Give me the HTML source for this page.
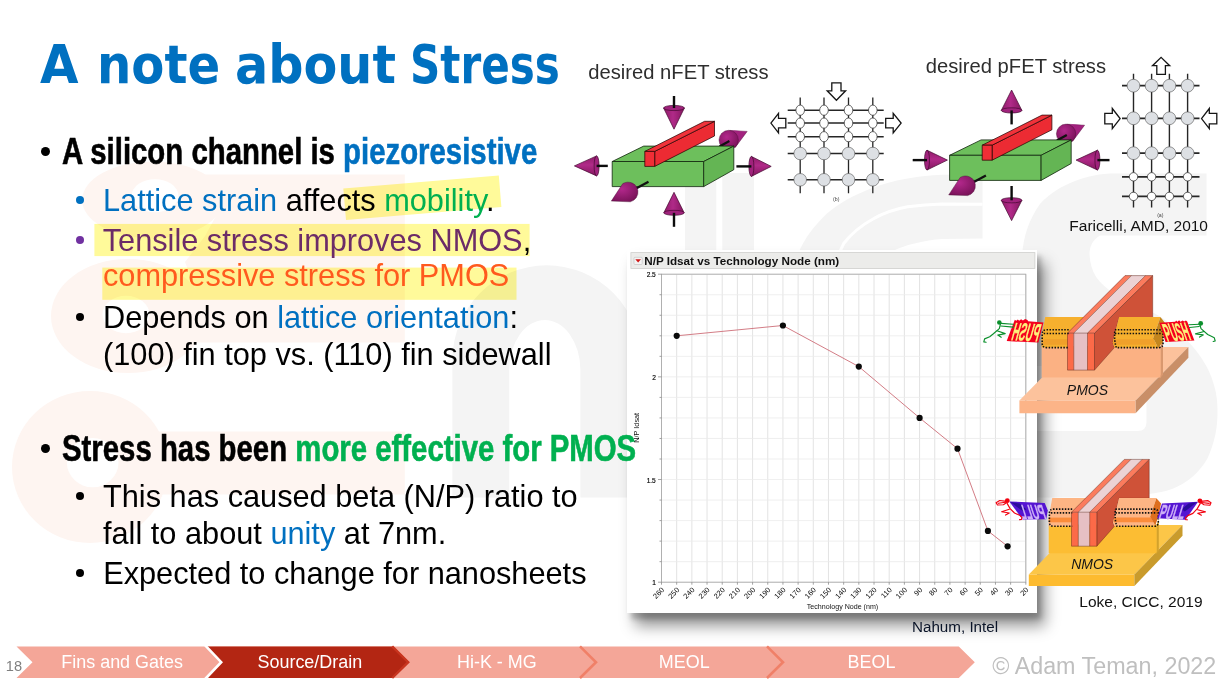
<!DOCTYPE html>
<html lang="en">
<head>
<meta charset="utf-8">
<title>A note about Stress</title>
<style>
html,body{margin:0;padding:0;background:#fff;}
body{width:1221px;height:682px;overflow:hidden;font-family:"Liberation Sans",sans-serif;}
#slide{position:relative;width:1221px;height:682px;overflow:hidden;background:#fff;}
.t{position:absolute;white-space:nowrap;line-height:1;color:#000;margin:0;padding:0;}
.abs{position:absolute;}
.h{font-weight:bold;transform-origin:0 0;transform:scaleX(0.8065);-webkit-text-stroke:0.6px currentColor;}
.blue{color:#0070c0}.green{color:#00b050}.purple{color:#6c2c68}.orange{color:#ff5a1e}
.bul{position:absolute;border-radius:50%;}
svg{position:absolute;overflow:visible;}
.title{position:absolute;left:0;top:37.8px;height:54px;width:620px;font-family:"DejaVu Sans","Liberation Sans",sans-serif;font-weight:bold;font-size:54px;line-height:1;color:#0070c0;white-space:nowrap;}
.tw{position:absolute;top:0;transform-origin:0 0;display:inline-block;}

</style>
</head>
<body>
<div id="slide">
<svg width="1221" height="682" viewBox="0 0 1221 682" style="left:0;top:0">
<g fill="#fef5f1" fill-rule="evenodd">
<path d="M82.2 200 a70.4 38.5 0 1 0 140.8 0 a70.4 38.5 0 1 0 -140.8 0 Z M131.5 195.7 a23.5 16.5 0 1 0 47 0 a23.5 16.5 0 1 0 -47 0 Z"/>
<path d="M51 316 a77 57 0 1 0 154 0 a77 57 0 1 0 -154 0 Z M102.5 314.5 a23.5 18.8 0 1 0 47 0 a23.5 18.8 0 1 0 -47 0 Z"/>
<path d="M12 467 a78 76 0 1 0 156 0 a78 76 0 1 0 -156 0 Z M66.9 462.7 a25.8 24.6 0 1 0 51.6 0 a25.8 24.6 0 1 0 -51.6 0 Z"/>
<path d="M205 174.6 H404.8 V342.5 H190 L200 300 L185 262 L205 236 L222 205 Z"/>
<path d="M150 431.5 H404.8 V494.4 H150 L166 467 Z"/>
</g>
<g fill="#f4f4f4">
<path d="M452.4 497.6 V360 A94.3 94.7 0 0 1 641 360 V497.6 H580.4 V370 A35.6 50 0 0 0 509.2 370 V497.6 Z"/>
<rect x="685" y="173" width="69" height="325"/>
<path d="M982.5 174.3 L982.5 238.6 L942 239 C925 240 905 245 892.9 251 L880 262 L795 262 C802 240 815 225 826.5 214 C840 202 855 195 868.3 189.5 C882 184 895 180.5 907.6 178.4 C920 176.3 930 175.3 942 174.7 Z"/>
<path d="M1030 262 L1022 262 C1022 240 1028 221 1040 204 C1050 193 1062 186 1075 181 C1088 176 1100 173.4 1115 173.4 L1206.5 173.4 L1206.5 235.4 L1100 235.4 C1092 240 1089 248 1089.6 255.5 C1090 263 1092 270 1096 276.8 C1100 283 1107 289 1115 293.8 C1128 301 1143 307 1157.6 315 C1169 322 1179 330 1187.4 340.6 C1197 351 1204 361 1208.6 370.4 C1213 380 1216 390 1217 400 C1218 412 1217.5 424 1215.5 434 C1213.5 443 1211 451 1207.4 458.4 C1203 466 1198 472 1191.3 477.7 C1185 483 1179 486 1172 489 C1165 491.5 1158 493 1149.4 493.9 C1140 495.5 1130 497.6 1118 497.6 L1030 497.6 L1030 431 L1137.5 431 Q1146.5 431 1146.5 422 L1146.5 375 Q1146.5 366 1137.5 366 L1030 366 Z"/>
</g>
<g fill="none" stroke="#fff" stroke-width="3">
<path d="M719.3 173 V250" stroke-width="6"/>
<path d="M982.5 204.2 L942 204 C930 204.5 918 205.5 907.6 206.7 C895 209 883 213 873 219 C862 225 851 234 843.7 243.5 L835 262"/>
</g>
</svg>
<svg width="1221" height="682" viewBox="0 0 1221 682" style="left:0;top:0;mix-blend-mode:multiply">
<polygon points="343.3,188.5 498.8,175.5 501.4,207 346,219.9" fill="#fffa9a"/>
<rect x="94.4" y="223.9" width="435.2" height="32.2" fill="#fffa9a"/>
<rect x="102.3" y="267.6" width="414.2" height="32.2" fill="#fffa9a"/>
</svg>
<div class="abs" style="left:626.7px;top:249.9px;width:410.5px;height:362.9px;background:#fff;box-shadow:4px 6px 5px rgba(0,0,0,0.2),8px 13px 14px rgba(0,0,0,0.42);"></div>

<svg width="1221" height="682" viewBox="0 0 1221 682" style="left:0;top:0;font-family:'Liberation Sans',sans-serif">
<rect x="630.9" y="252.6" width="404" height="15.9" fill="#ececea" stroke="#cfcfcd" stroke-width="0.8"/>
<rect x="634" y="257.3" width="8.2" height="7.2" rx="1" fill="#f4f4f4" stroke="#bdbdbd" stroke-width="0.6"/>
<polygon points="635.3,259.2 641,259.2 638.15,262.6" fill="#d01818"/>
<text x="644.2" y="264.6" font-size="11.7" font-weight="bold" fill="#111">N/P Idsat vs Technology Node (nm)</text>
<path d="M661.50 274.2 V582.2 M676.68 274.2 V582.2 M691.86 274.2 V582.2 M707.04 274.2 V582.2 M722.22 274.2 V582.2 M737.40 274.2 V582.2 M752.58 274.2 V582.2 M767.76 274.2 V582.2 M782.94 274.2 V582.2 M798.12 274.2 V582.2 M813.30 274.2 V582.2 M828.48 274.2 V582.2 M843.66 274.2 V582.2 M858.84 274.2 V582.2 M874.02 274.2 V582.2 M889.20 274.2 V582.2 M904.38 274.2 V582.2 M919.56 274.2 V582.2 M934.74 274.2 V582.2 M949.92 274.2 V582.2 M965.10 274.2 V582.2 M980.28 274.2 V582.2 M995.46 274.2 V582.2 M1010.64 274.2 V582.2 M1025.82 274.2 V582.2" stroke="#dcdcdc" stroke-width="0.8" fill="none"/>
<path d="M661.5 274.20 H1025.82 M661.5 294.73 H1025.82 M661.5 315.27 H1025.82 M661.5 335.80 H1025.82 M661.5 356.33 H1025.82 M661.5 376.87 H1025.82 M661.5 397.40 H1025.82 M661.5 417.93 H1025.82 M661.5 438.47 H1025.82 M661.5 459.00 H1025.82 M661.5 479.53 H1025.82 M661.5 500.07 H1025.82 M661.5 520.60 H1025.82 M661.5 541.13 H1025.82 M661.5 561.67 H1025.82 M661.5 582.20 H1025.82" stroke="#ebebeb" stroke-width="0.8" fill="none"/>
<rect x="661.5" y="274.2" width="364.32" height="308.00" stroke="#ababab" stroke-width="0.9" fill="none"/>
<path d="M661.50 582.2 v2.5 M676.68 582.2 v2.5 M691.86 582.2 v2.5 M707.04 582.2 v2.5 M722.22 582.2 v2.5 M737.40 582.2 v2.5 M752.58 582.2 v2.5 M767.76 582.2 v2.5 M782.94 582.2 v2.5 M798.12 582.2 v2.5 M813.30 582.2 v2.5 M828.48 582.2 v2.5 M843.66 582.2 v2.5 M858.84 582.2 v2.5 M874.02 582.2 v2.5 M889.20 582.2 v2.5 M904.38 582.2 v2.5 M919.56 582.2 v2.5 M934.74 582.2 v2.5 M949.92 582.2 v2.5 M965.10 582.2 v2.5 M980.28 582.2 v2.5 M995.46 582.2 v2.5 M1010.64 582.2 v2.5 M1025.82 582.2 v2.5 M661.5 274.20 h-3.5 M661.5 294.73 h-2 M661.5 315.27 h-2 M661.5 335.80 h-2 M661.5 356.33 h-2 M661.5 376.87 h-3.5 M661.5 397.40 h-2 M661.5 417.93 h-2 M661.5 438.47 h-2 M661.5 459.00 h-2 M661.5 479.53 h-3.5 M661.5 500.07 h-2 M661.5 520.60 h-2 M661.5 541.13 h-2 M661.5 561.67 h-2 M661.5 582.20 h-3.5" stroke="#8a8a8a" stroke-width="0.8" fill="none"/>
<text x="655.8" y="277.4" font-size="6.6" stroke="#000" stroke-width="0.15" text-anchor="end" fill="#000">2.5</text>
<text x="655.8" y="380.1" font-size="6.6" stroke="#000" stroke-width="0.15" text-anchor="end" fill="#000">2</text>
<text x="655.8" y="482.7" font-size="6.6" stroke="#000" stroke-width="0.15" text-anchor="end" fill="#000">1.5</text>
<text x="655.8" y="585.4" font-size="6.6" stroke="#000" stroke-width="0.15" text-anchor="end" fill="#000">1</text>
<text transform="translate(664.7,590.4) rotate(-45)" font-size="7.4" text-anchor="end" fill="#000">260</text>
<text transform="translate(679.9,590.4) rotate(-45)" font-size="7.4" text-anchor="end" fill="#000">250</text>
<text transform="translate(695.1,590.4) rotate(-45)" font-size="7.4" text-anchor="end" fill="#000">240</text>
<text transform="translate(710.2,590.4) rotate(-45)" font-size="7.4" text-anchor="end" fill="#000">230</text>
<text transform="translate(725.4,590.4) rotate(-45)" font-size="7.4" text-anchor="end" fill="#000">220</text>
<text transform="translate(740.6,590.4) rotate(-45)" font-size="7.4" text-anchor="end" fill="#000">210</text>
<text transform="translate(755.8,590.4) rotate(-45)" font-size="7.4" text-anchor="end" fill="#000">200</text>
<text transform="translate(771.0,590.4) rotate(-45)" font-size="7.4" text-anchor="end" fill="#000">190</text>
<text transform="translate(786.1,590.4) rotate(-45)" font-size="7.4" text-anchor="end" fill="#000">180</text>
<text transform="translate(801.3,590.4) rotate(-45)" font-size="7.4" text-anchor="end" fill="#000">170</text>
<text transform="translate(816.5,590.4) rotate(-45)" font-size="7.4" text-anchor="end" fill="#000">160</text>
<text transform="translate(831.7,590.4) rotate(-45)" font-size="7.4" text-anchor="end" fill="#000">150</text>
<text transform="translate(846.9,590.4) rotate(-45)" font-size="7.4" text-anchor="end" fill="#000">140</text>
<text transform="translate(862.0,590.4) rotate(-45)" font-size="7.4" text-anchor="end" fill="#000">130</text>
<text transform="translate(877.2,590.4) rotate(-45)" font-size="7.4" text-anchor="end" fill="#000">120</text>
<text transform="translate(892.4,590.4) rotate(-45)" font-size="7.4" text-anchor="end" fill="#000">110</text>
<text transform="translate(907.6,590.4) rotate(-45)" font-size="7.4" text-anchor="end" fill="#000">100</text>
<text transform="translate(922.8,590.4) rotate(-45)" font-size="7.4" text-anchor="end" fill="#000">90</text>
<text transform="translate(937.9,590.4) rotate(-45)" font-size="7.4" text-anchor="end" fill="#000">80</text>
<text transform="translate(953.1,590.4) rotate(-45)" font-size="7.4" text-anchor="end" fill="#000">70</text>
<text transform="translate(968.3,590.4) rotate(-45)" font-size="7.4" text-anchor="end" fill="#000">60</text>
<text transform="translate(983.5,590.4) rotate(-45)" font-size="7.4" text-anchor="end" fill="#000">50</text>
<text transform="translate(998.7,590.4) rotate(-45)" font-size="7.4" text-anchor="end" fill="#000">40</text>
<text transform="translate(1013.8,590.4) rotate(-45)" font-size="7.4" text-anchor="end" fill="#000">30</text>
<text transform="translate(1029.0,590.4) rotate(-45)" font-size="7.4" text-anchor="end" fill="#000">20</text>
<text x="842.5" y="609.3" font-size="7.1" text-anchor="middle" fill="#111">Technology Node (nm)</text>
<text transform="translate(639.4,427.8) rotate(-90)" font-size="7.3" text-anchor="middle" fill="#111">N/P Idsat</text>
<polyline points="676.7,335.8 782.9,325.5 858.8,366.6 919.6,417.9 957.5,448.7 987.9,530.9 1007.6,546.3" fill="none" stroke="#cb6570" stroke-width="0.85"/>
<circle cx="676.7" cy="335.8" r="3.1" fill="#0a0a0a"/>
<circle cx="782.9" cy="325.5" r="3.1" fill="#0a0a0a"/>
<circle cx="858.8" cy="366.6" r="3.1" fill="#0a0a0a"/>
<circle cx="919.6" cy="417.9" r="3.1" fill="#0a0a0a"/>
<circle cx="957.5" cy="448.7" r="3.1" fill="#0a0a0a"/>
<circle cx="987.9" cy="530.9" r="3.1" fill="#0a0a0a"/>
<circle cx="1007.6" cy="546.3" r="3.1" fill="#0a0a0a"/>
</svg>
<div class="title"><span class="tw" style="left:40px;transform:scaleX(0.922)">A</span> <span class="tw" style="left:96.5px;transform:scaleX(0.893)">note</span> <span class="tw" style="left:235px;transform:scaleX(0.912)">about</span> <span class="tw" style="left:410px;transform:scaleX(0.779)">Stress</span></div>
<span class="bul" style="left:41.2px;top:146.6px;width:9.2px;height:9.2px;background:#000"></span>
<div class="t h" style="left:61.6px;top:134.30px;font-size:36.4px;">A silicon channel is <span class="blue">piezoresistive</span></div>
<span class="bul" style="left:76.3px;top:195.6px;width:8px;height:8px;background:#0070c0"></span>
<div class="t " style="left:103.0px;top:186.14px;font-size:30.72px;"><span class="blue">Lattice strain</span> affects <span class="green">mobility</span>.</div>
<span class="bul" style="left:76.3px;top:235.7px;width:8px;height:8px;background:#7030a0"></span>
<div class="t " style="left:102.7px;top:226.14px;font-size:30.72px;"><span class="purple">Tensile stress improves NMOS</span>,</div>
<div class="t " style="left:103.0px;top:261.14px;font-size:30.72px;"><span class="orange">compressive stress for PMOS</span></div>
<span class="bul" style="left:76.3px;top:313.1px;width:8px;height:8px;background:#000"></span>
<div class="t " style="left:103.0px;top:303.14px;font-size:30.72px;">Depends on <span class="blue">lattice orientation</span>:</div>
<div class="t " style="left:103.0px;top:340.14px;font-size:30.72px;">(100) fin top vs. (110) fin sidewall</div>
<span class="bul" style="left:41.2px;top:443.9px;width:9.2px;height:9.2px;background:#000"></span>
<div class="t h" style="left:62.2px;top:431.30px;font-size:36.4px;">Stress has been <span class="green">more effective for PMOS</span></div>
<span class="bul" style="left:76.3px;top:492.3px;width:8px;height:8px;background:#000"></span>
<div class="t " style="left:103.0px;top:482.14px;font-size:30.72px;">This has caused beta (N/P) ratio to</div>
<div class="t " style="left:103.0px;top:519.14px;font-size:30.72px;">fall to about <span class="blue">unity</span> at 7nm.</div>
<span class="bul" style="left:76.3px;top:569.3px;width:8px;height:8px;background:#000"></span>
<div class="t " style="left:103.2px;top:559.14px;font-size:30.72px;">Expected to change for nanosheets</div>
<div class="t " style="left:912.0px;top:618.90px;font-size:15.2px;color:#0a1428">Nahum, Intel</div>
<svg width="1221" height="682" viewBox="0 0 1221 682" style="left:0;top:0;font-family:'Liberation Sans',sans-serif">
<defs>
<linearGradient id="cnH" x1="0" y1="0" x2="0" y2="1"><stop offset="0" stop-color="#8e1a68"/><stop offset="0.45" stop-color="#b02a88"/><stop offset="1" stop-color="#84165f"/></linearGradient>
<linearGradient id="cnV" x1="0" y1="0" x2="1" y2="0"><stop offset="0" stop-color="#8e1a68"/><stop offset="0.45" stop-color="#b02a88"/><stop offset="1" stop-color="#84165f"/></linearGradient>
<radialGradient id="cnR" cx="0.4" cy="0.35" r="0.8"><stop offset="0" stop-color="#b3288c"/><stop offset="1" stop-color="#6f0f50"/></radialGradient>
</defs>
<text x="588.3" y="79" font-size="20.2" fill="#2e2e2e">desired nFET stress</text>
<polygon points="747.2,131.4 729.7,130.4 735.2,147.5" fill="#a3227f" stroke="#43092f" stroke-width="0.4"/>
<polygon points="747.2,131.4 730.7,130.2 735.2,131.2" fill="#b12a8c"/>
<circle cx="728.7" cy="140.0" r="9.7" fill="url(#cnR)" stroke="#43092f" stroke-width="0.4"/>
<line x1="719.5" y1="146.6" x2="729.4" y2="141.1" stroke="#111" stroke-width="2.3"/>
<polygon points="612.2,161.5 643.7,146.1 733.8,146.1 703.7,161.5" fill="#6dbf5c" stroke="#10250c" stroke-width="0.8" stroke-linejoin="round"/>
<polygon points="612.2,161.5 703.7,161.5 703.7,186.6 612.2,186.6" fill="#6dbf5c" stroke="#10250c" stroke-width="0.8" stroke-linejoin="round"/>
<polygon points="703.7,161.5 733.8,146.1 733.8,169.7 703.7,186.6" fill="#64b554" stroke="#10250c" stroke-width="0.8" stroke-linejoin="round"/>
<polygon points="654.7,151.4 714.5,121.3 714.5,136.0 654.7,166.4" fill="#ec2b33" stroke="#2a0505" stroke-width="0.75" stroke-linejoin="round"/>
<polygon points="644.8,151.4 704.6,121.3 714.5,121.3 654.7,151.4" fill="#f0323a" stroke="#2a0505" stroke-width="0.75" stroke-linejoin="round"/>
<polygon points="644.8,151.4 654.7,151.4 654.7,166.4 644.8,166.4" fill="#f02e36" stroke="#2a0505" stroke-width="0.75" stroke-linejoin="round"/>
<line x1="648.5" y1="181.7" x2="636.0" y2="188.4" stroke="#111" stroke-width="2.3"/>
<path d="M611.3 201.1 L622.8 183.6 A10 10 0 0 1 637.9 190.7 A10 10 0 0 1 630.3 201.8 Z" fill="url(#cnR)" stroke="#43092f" stroke-width="0.4" stroke-linejoin="round"/>
<polygon points="674.0,129.2 684.4,108.0 663.6,108.0" fill="url(#cnV)" stroke="#43092f" stroke-width="0.7" stroke-linejoin="round"/>
<ellipse cx="674.0" cy="108.0" rx="2.6" ry="10.4" transform="rotate(-90.0 674.0 108.0)" fill="#a0227c" stroke="#43092f" stroke-width="0.7"/>
<line x1="674.0" y1="108.0" x2="674.0" y2="96.0" stroke="#0c0c0c" stroke-width="2.4"/>
<polygon points="674.0,192.3 663.8,212.8 684.2,212.8" fill="url(#cnV)" stroke="#43092f" stroke-width="0.7" stroke-linejoin="round"/>
<ellipse cx="674.0" cy="212.8" rx="2.5" ry="10.2" transform="rotate(90.0 674.0 212.8)" fill="#a0227c" stroke="#43092f" stroke-width="0.7"/>
<line x1="674.0" y1="212.8" x2="674.0" y2="226.8" stroke="#0c0c0c" stroke-width="2.4"/>
<polygon points="574.4,165.9 596.6,175.9 596.6,155.9" fill="url(#cnH)" stroke="#43092f" stroke-width="0.7" stroke-linejoin="round"/>
<ellipse cx="596.6" cy="165.9" rx="2.5" ry="10.0" transform="rotate(0.0 596.6 165.9)" fill="#a0227c" stroke="#43092f" stroke-width="0.7"/>
<line x1="596.6" y1="165.9" x2="607.8" y2="165.9" stroke="#0c0c0c" stroke-width="2.4"/>
<polygon points="771.2,166.4 751.4,156.4 751.4,176.4" fill="url(#cnH)" stroke="#43092f" stroke-width="0.7" stroke-linejoin="round"/>
<ellipse cx="751.4" cy="166.4" rx="2.5" ry="10.0" transform="rotate(180.0 751.4 166.4)" fill="#a0227c" stroke="#43092f" stroke-width="0.7"/>
<line x1="751.4" y1="166.4" x2="736.4" y2="166.4" stroke="#0c0c0c" stroke-width="2.4"/>
<path d="M800.2 97.4 V193.3 M824.0 97.4 V193.3 M848.5 97.4 V193.3 M872.8 97.4 V193.3" stroke="#262626" stroke-width="1.3" fill="none"/>
<path d="M787.7 110.2 H883.7 M787.7 123.1 H883.7 M787.7 136.7 H883.7 M787.7 153.5 H883.7 M787.7 179.8 H883.7" stroke="#262626" stroke-width="1.5" fill="none"/>
<ellipse cx="800.2" cy="110.2" rx="4.3" ry="5.1" fill="#fff" stroke="#333" stroke-width="0.75"/>
<ellipse cx="824.0" cy="110.2" rx="4.3" ry="5.1" fill="#fff" stroke="#333" stroke-width="0.75"/>
<ellipse cx="848.5" cy="110.2" rx="4.3" ry="5.1" fill="#fff" stroke="#333" stroke-width="0.75"/>
<ellipse cx="872.8" cy="110.2" rx="4.3" ry="5.1" fill="#fff" stroke="#333" stroke-width="0.75"/>
<ellipse cx="800.2" cy="123.1" rx="4.3" ry="5.1" fill="#fff" stroke="#333" stroke-width="0.75"/>
<ellipse cx="824.0" cy="123.1" rx="4.3" ry="5.1" fill="#fff" stroke="#333" stroke-width="0.75"/>
<ellipse cx="848.5" cy="123.1" rx="4.3" ry="5.1" fill="#fff" stroke="#333" stroke-width="0.75"/>
<ellipse cx="872.8" cy="123.1" rx="4.3" ry="5.1" fill="#fff" stroke="#333" stroke-width="0.75"/>
<ellipse cx="800.2" cy="136.7" rx="4.3" ry="5.1" fill="#fff" stroke="#333" stroke-width="0.75"/>
<ellipse cx="824.0" cy="136.7" rx="4.3" ry="5.1" fill="#fff" stroke="#333" stroke-width="0.75"/>
<ellipse cx="848.5" cy="136.7" rx="4.3" ry="5.1" fill="#fff" stroke="#333" stroke-width="0.75"/>
<ellipse cx="872.8" cy="136.7" rx="4.3" ry="5.1" fill="#fff" stroke="#333" stroke-width="0.75"/>
<circle cx="800.2" cy="153.5" r="6.3" fill="#dde0e4" stroke="#555" stroke-width="0.6"/>
<circle cx="824.0" cy="153.5" r="6.3" fill="#dde0e4" stroke="#555" stroke-width="0.6"/>
<circle cx="848.5" cy="153.5" r="6.3" fill="#dde0e4" stroke="#555" stroke-width="0.6"/>
<circle cx="872.8" cy="153.5" r="6.3" fill="#dde0e4" stroke="#555" stroke-width="0.6"/>
<circle cx="800.2" cy="179.8" r="6.3" fill="#dde0e4" stroke="#555" stroke-width="0.6"/>
<circle cx="824.0" cy="179.8" r="6.3" fill="#dde0e4" stroke="#555" stroke-width="0.6"/>
<circle cx="848.5" cy="179.8" r="6.3" fill="#dde0e4" stroke="#555" stroke-width="0.6"/>
<circle cx="872.8" cy="179.8" r="6.3" fill="#dde0e4" stroke="#555" stroke-width="0.6"/>
<polygon points="836.4,100.3 827.2,90.8 831.8,90.8 831.8,82.9 841.0,82.9 841.0,90.8 845.6,90.8" fill="#fff" stroke="#151515" stroke-width="1.3" stroke-linejoin="miter"/>
<polygon points="770.9,123.1 778.5,113.4 778.5,118.3 785.8,118.3 785.8,127.8 778.5,127.8 778.5,132.8" fill="#fff" stroke="#151515" stroke-width="1.3" stroke-linejoin="miter"/>
<polygon points="901.1,123.1 893.2,132.8 893.2,127.8 885.7,127.8 885.7,118.3 893.2,118.3 893.2,113.4" fill="#fff" stroke="#151515" stroke-width="1.3" stroke-linejoin="miter"/>
<text x="836.2" y="201.3" font-size="5.2" text-anchor="middle" fill="#444">(b)</text>
</svg>
<svg width="1221" height="682" viewBox="0 0 1221 682" style="left:0;top:0;font-family:'Liberation Sans',sans-serif">
<text x="925.8" y="72.9" font-size="20.2" fill="#2e2e2e">desired pFET stress</text>
<polygon points="1084.6,125.2 1067.1,124.2 1072.6,141.3" fill="#a3227f" stroke="#43092f" stroke-width="0.4"/>
<polygon points="1084.6,125.2 1068.1,124.0 1072.6,125.0" fill="#b12a8c"/>
<circle cx="1066.1" cy="133.8" r="9.7" fill="url(#cnR)" stroke="#43092f" stroke-width="0.4"/>
<line x1="1056.9" y1="140.4" x2="1066.8" y2="134.9" stroke="#111" stroke-width="2.3"/>
<polygon points="949.6,155.3 981.1,139.9 1071.2,139.9 1041.1,155.3" fill="#6dbf5c" stroke="#10250c" stroke-width="0.8" stroke-linejoin="round"/>
<polygon points="949.6,155.3 1041.1,155.3 1041.1,180.4 949.6,180.4" fill="#6dbf5c" stroke="#10250c" stroke-width="0.8" stroke-linejoin="round"/>
<polygon points="1041.1,155.3 1071.2,139.9 1071.2,163.5 1041.1,180.4" fill="#64b554" stroke="#10250c" stroke-width="0.8" stroke-linejoin="round"/>
<polygon points="992.1,145.2 1051.9,115.1 1051.9,129.8 992.1,160.2" fill="#ec2b33" stroke="#2a0505" stroke-width="0.75" stroke-linejoin="round"/>
<polygon points="982.2,145.2 1042.0,115.1 1051.9,115.1 992.1,145.2" fill="#f0323a" stroke="#2a0505" stroke-width="0.75" stroke-linejoin="round"/>
<polygon points="982.2,145.2 992.1,145.2 992.1,160.2 982.2,160.2" fill="#f02e36" stroke="#2a0505" stroke-width="0.75" stroke-linejoin="round"/>
<line x1="985.9" y1="175.5" x2="973.4" y2="182.2" stroke="#111" stroke-width="2.3"/>
<path d="M948.7 194.9 L960.2 177.4 A10 10 0 0 1 975.3 184.5 A10 10 0 0 1 967.7 195.6 Z" fill="url(#cnR)" stroke="#43092f" stroke-width="0.4" stroke-linejoin="round"/>
<polygon points="1011.6,90.0 1001.3,110.4 1021.9,110.4" fill="url(#cnV)" stroke="#43092f" stroke-width="0.7" stroke-linejoin="round"/>
<ellipse cx="1011.6" cy="110.4" rx="2.6" ry="10.3" transform="rotate(90.0 1011.6 110.4)" fill="#a0227c" stroke="#43092f" stroke-width="0.7"/>
<line x1="1011.6" y1="110.4" x2="1011.6" y2="124.4" stroke="#0c0c0c" stroke-width="2.4"/>
<polygon points="1011.6,220.6 1021.9,200.3 1001.3,200.3" fill="url(#cnV)" stroke="#43092f" stroke-width="0.7" stroke-linejoin="round"/>
<ellipse cx="1011.6" cy="200.3" rx="2.6" ry="10.3" transform="rotate(-90.0 1011.6 200.3)" fill="#a0227c" stroke="#43092f" stroke-width="0.7"/>
<line x1="1011.6" y1="200.3" x2="1011.6" y2="186.0" stroke="#0c0c0c" stroke-width="2.4"/>
<polygon points="947.4,160.1 927.0,150.2 927.0,170.0" fill="url(#cnH)" stroke="#43092f" stroke-width="0.7" stroke-linejoin="round"/>
<ellipse cx="927.0" cy="160.1" rx="2.5" ry="9.9" transform="rotate(180.0 927.0 160.1)" fill="#a0227c" stroke="#43092f" stroke-width="0.7"/>
<line x1="927.0" y1="160.1" x2="912.7" y2="160.1" stroke="#0c0c0c" stroke-width="2.4"/>
<polygon points="1076.1,160.1 1097.4,170.0 1097.4,150.2" fill="url(#cnH)" stroke="#43092f" stroke-width="0.7" stroke-linejoin="round"/>
<ellipse cx="1097.4" cy="160.1" rx="2.5" ry="9.9" transform="rotate(0.0 1097.4 160.1)" fill="#a0227c" stroke="#43092f" stroke-width="0.7"/>
<line x1="1097.4" y1="160.1" x2="1109.5" y2="160.1" stroke="#0c0c0c" stroke-width="2.4"/>
<path d="M1133.5 73.7 V207.5 M1151.6 73.7 V207.5 M1169.4 73.7 V207.5 M1187.6 73.7 V207.5" stroke="#262626" stroke-width="1.4" fill="none"/>
<path d="M1122.0 176.8 H1199.5 M1122.0 196.4 H1199.5 M1122.0 85.7 H1199.5 M1122.0 118.3 H1199.5 M1122.0 153.2 H1199.5" stroke="#262626" stroke-width="1.8" fill="none"/>
<ellipse cx="1133.5" cy="176.8" rx="4.2" ry="4.2" fill="#fff" stroke="#333" stroke-width="0.75"/>
<ellipse cx="1151.6" cy="176.8" rx="4.2" ry="4.2" fill="#fff" stroke="#333" stroke-width="0.75"/>
<ellipse cx="1169.4" cy="176.8" rx="4.2" ry="4.2" fill="#fff" stroke="#333" stroke-width="0.75"/>
<ellipse cx="1187.6" cy="176.8" rx="4.2" ry="4.2" fill="#fff" stroke="#333" stroke-width="0.75"/>
<ellipse cx="1133.5" cy="196.4" rx="4.2" ry="4.2" fill="#fff" stroke="#333" stroke-width="0.75"/>
<ellipse cx="1151.6" cy="196.4" rx="4.2" ry="4.2" fill="#fff" stroke="#333" stroke-width="0.75"/>
<ellipse cx="1169.4" cy="196.4" rx="4.2" ry="4.2" fill="#fff" stroke="#333" stroke-width="0.75"/>
<ellipse cx="1187.6" cy="196.4" rx="4.2" ry="4.2" fill="#fff" stroke="#333" stroke-width="0.75"/>
<circle cx="1133.5" cy="85.7" r="6.4" fill="#dde0e4" stroke="#555" stroke-width="0.6"/>
<circle cx="1151.6" cy="85.7" r="6.4" fill="#dde0e4" stroke="#555" stroke-width="0.6"/>
<circle cx="1169.4" cy="85.7" r="6.4" fill="#dde0e4" stroke="#555" stroke-width="0.6"/>
<circle cx="1187.6" cy="85.7" r="6.4" fill="#dde0e4" stroke="#555" stroke-width="0.6"/>
<circle cx="1133.5" cy="118.3" r="6.4" fill="#dde0e4" stroke="#555" stroke-width="0.6"/>
<circle cx="1151.6" cy="118.3" r="6.4" fill="#dde0e4" stroke="#555" stroke-width="0.6"/>
<circle cx="1169.4" cy="118.3" r="6.4" fill="#dde0e4" stroke="#555" stroke-width="0.6"/>
<circle cx="1187.6" cy="118.3" r="6.4" fill="#dde0e4" stroke="#555" stroke-width="0.6"/>
<circle cx="1133.5" cy="153.2" r="6.4" fill="#dde0e4" stroke="#555" stroke-width="0.6"/>
<circle cx="1151.6" cy="153.2" r="6.4" fill="#dde0e4" stroke="#555" stroke-width="0.6"/>
<circle cx="1169.4" cy="153.2" r="6.4" fill="#dde0e4" stroke="#555" stroke-width="0.6"/>
<circle cx="1187.6" cy="153.2" r="6.4" fill="#dde0e4" stroke="#555" stroke-width="0.6"/>
<polygon points="1161.1,57.4 1169.7,65.7 1165.4,65.7 1165.4,74.3 1156.8,74.3 1156.8,65.7 1152.5,65.7" fill="#fff" stroke="#151515" stroke-width="1.3" stroke-linejoin="miter"/>
<polygon points="1120.1,118.6 1112.3,128.7 1112.3,123.8 1104.8,123.8 1104.8,113.4 1112.3,113.4 1112.3,108.5" fill="#fff" stroke="#151515" stroke-width="1.3" stroke-linejoin="miter"/>
<polygon points="1201.5,118.6 1209.3,108.5 1209.3,113.4 1216.8,113.4 1216.8,123.8 1209.3,123.8 1209.3,128.7" fill="#fff" stroke="#151515" stroke-width="1.3" stroke-linejoin="miter"/>
<text x="1160.3" y="217.2" font-size="5.2" text-anchor="middle" fill="#444">(a)</text>
<text x="1069.3" y="230.6" font-size="15.5" fill="#111">Faricelli, AMD, 2010</text>
</svg>
<svg width="1221" height="682" viewBox="0 0 1221 682" style="left:0;top:0;font-family:'Liberation Sans',sans-serif">
<polygon points="1014.8,319.7 1016.3,320.8 1017.8,319.6 1019.2,320.8 1021.1,319.2 1022.9,320.6 1025.1,319.0 1027.5,320.1 1028.1,321.2 1043.5,322.4 1038.4,342.6 1006.7,341.1" fill="#f5001e"/>
<text transform="matrix(-0.385 -0.022 -0.28 1 1037.4 341.6)" font-size="25" font-weight="bold" fill="#fff07a" stroke="#fff07a" stroke-width="0.3">PUSH</text>
<polyline points="1000.8,323.4 1013.3,324.3" fill="none" stroke="#0b8f2c" stroke-width="1.15" stroke-linecap="round" stroke-linejoin="round"/>
<polyline points="1000.8,326.0 1013.3,327.1" fill="none" stroke="#0b8f2c" stroke-width="1.15" stroke-linecap="round" stroke-linejoin="round"/>
<polyline points="1000.4,324.2 999.3,328.6 993.4,333.7 989.7,336.7 984.6,338.9 983.8,341.9 986.1,342.2" fill="none" stroke="#0b8f2c" stroke-width="1.15" stroke-linecap="round" stroke-linejoin="round"/>
<polyline points="997.1,330.8 1005.2,333.6 997.8,335.1 1001.2,337.3" fill="none" stroke="#0b8f2c" stroke-width="1.15" stroke-linecap="round" stroke-linejoin="round"/>
<circle cx="999.3" cy="322.5" r="2.3" fill="#0b8f2c"/>
<polygon points="1019.4,400.6 1135.6,400.6 1188.4,347.1 1072.2,347.1" fill="#fcc29c"/>
<polygon points="1019.4,400.6 1135.6,400.6 1135.6,413.3 1019.4,413.3" fill="#fcb488"/>
<polygon points="1135.6,400.6 1188.4,347.1 1188.4,357.7 1135.6,413.3" fill="#c98f68"/>
<polygon points="1041.7,346.0 1160.7,346.0 1160.7,377.6 1041.7,377.6" fill="#fbb183"/>
<polygon points="1160.7,377.6 1163.0,374.8 1163.0,335.4 1160.7,346.0" fill="#d9986e"/>
<polygon points="1094.5,333.1 1152.7,275.6 1152.7,317.6 1119.1,317.6 1114.4,335.4 1112.8,342.4 1114.4,347.6 1094.5,370.1" fill="#cf5238" stroke="#6a2414" stroke-width="0.45" stroke-linejoin="round"/>
<polygon points="1041.7,335.4 1045.2,317.1 1087.4,317.1 1068.7,333.1 1068.7,347.6 1041.7,347.6" fill="#f6b02e"/>
<polygon points="1041.7,339.2 1068.7,339.2 1068.7,344.8 1041.7,344.8" fill="#f0a02a"/>
<polygon points="1114.4,335.4 1119.1,317.1 1160.4,317.1 1153.2,338.2 1158.3,348.1 1114.4,347.6 1112.8,342.4" fill="#f6b02e"/>
<polygon points="1113.5,339.2 1153.6,339.2 1156.0,344.8 1113.5,344.8 1112.8,342.4" fill="#f0a02a"/>
<polygon points="1160.4,317.1 1164.9,322.7 1162.8,342.0 1158.3,348.1 1153.2,338.2" fill="#c4861d"/>
<polygon points="1067.5,333.1 1073.8,333.1 1131.5,275.6 1125.0,275.6" fill="#fb7b5d"/>
<polygon points="1067.5,333.1 1073.8,333.1 1073.8,370.1 1067.5,370.1" fill="#fc6a48"/>
<polygon points="1073.8,333.1 1087.5,333.1 1145.5,275.6 1131.5,275.6" fill="#ecd2d4"/>
<polygon points="1073.8,333.1 1087.5,333.1 1087.5,370.1 1073.8,370.1" fill="#e6c0c4"/>
<polygon points="1087.5,333.1 1094.5,333.1 1152.7,275.6 1145.5,275.6" fill="#fb7b5d"/>
<polygon points="1087.5,333.1 1094.5,333.1 1094.5,370.1 1087.5,370.1" fill="#fc6a48"/>
<path d="M1125.0 275.6 L1067.5 333.1 L1067.5 370.1" fill="none" stroke="#5a2418" stroke-width="0.45"/>
<path d="M1131.5 275.6 L1073.8 333.1 L1073.8 370.1" fill="none" stroke="#5a2418" stroke-width="0.45"/>
<path d="M1145.5 275.6 L1087.5 333.1 L1087.5 370.1" fill="none" stroke="#5a2418" stroke-width="0.45"/>
<path d="M1152.7 275.6 L1094.5 333.1 L1094.5 370.1" fill="none" stroke="#5a2418" stroke-width="0.45"/>
<path d="M1067.5 333.1 H1094.5 M1067.5 370.1 H1094.5 M1125.0 275.6 H1152.7" fill="none" stroke="#5a2418" stroke-width="0.45"/>
<path d="M1068.7 329.8 H1046.4 Q1042.2 329.8 1042.2 334.0 V343.4 Q1042.2 347.6 1046.4 347.6 H1068.7 M1043.7 333.5 H1068.7" fill="none" stroke="#111" stroke-width="1.6" stroke-dasharray="1.5 1.45"/>
<path d="M1114.9 329.8 H1158.8 Q1163.0 329.8 1163.0 334.0 V343.4 Q1163.0 347.6 1158.8 347.6 H1116.4 Q1113.9 340.7 1114.9 329.8 M1114.9 333.5 H1161.5" fill="none" stroke="#111" stroke-width="1.6" stroke-dasharray="1.5 1.45"/>
<text x="1066.8" y="394.6" font-size="14" font-style="italic" fill="#141414">PMOS</text>
<polygon points="1159.4,322.7 1175.2,321.8 1176.1,320.5 1177.4,321.7 1179.1,320.3 1180.5,321.7 1182.6,320.5 1184.2,321.5 1185.9,320.6 1187.2,321.4 1194.4,340.4 1165.6,341.9" fill="#f5001e"/>
<text transform="matrix(0.355 -0.02 0.36 1 1167.3 341.4)" font-size="25" font-weight="bold" fill="#fff07a" stroke="#fff07a" stroke-width="0.3">PUSH</text>
<polyline points="1199.5,324.3 1188.9,324.8" fill="none" stroke="#0b8f2c" stroke-width="1.15" stroke-linecap="round" stroke-linejoin="round"/>
<polyline points="1199.2,326.5 1189.6,327.5" fill="none" stroke="#0b8f2c" stroke-width="1.15" stroke-linecap="round" stroke-linejoin="round"/>
<polyline points="1199.9,324.5 1201.0,328.6 1207.7,334.5 1211.3,336.3 1214.3,337.8 1215.2,341.0 1213.2,341.5" fill="none" stroke="#0b8f2c" stroke-width="1.15" stroke-linecap="round" stroke-linejoin="round"/>
<polyline points="1204.0,331.5 1195.5,333.9 1203.2,334.9 1199.5,337.1" fill="none" stroke="#0b8f2c" stroke-width="1.15" stroke-linecap="round" stroke-linejoin="round"/>
<circle cx="1200.7" cy="323.4" r="2.4" fill="#0b8f2c"/>
</svg>
<svg width="1221" height="682" viewBox="0 0 1221 682" style="left:0;top:0;font-family:'Liberation Sans',sans-serif">
<polygon points="1009.3,501.4 1044.7,503.1 1047.8,510.4 1046.2,519.3 1022.6,519.6" fill="#5414d2"/>
<polygon points="1010.4,502.1 1019.6,503.4 1026.3,509.3 1023.3,511.5" fill="#2a0c9a"/>
<text transform="matrix(-0.47 0.0 0.32 1 1047.1 519.1)" font-size="20.5" font-weight="bold" fill="#cdb0f7" stroke="#cdb0f7" stroke-width="0.35">PULL</text>
<polyline points="1006.4,501.4 999.7,500.5 996.1,502.7 997.5,505.0 1003.4,504.8 1006.4,502.7" fill="none" stroke="#f2000f" stroke-width="1.15" stroke-linecap="round" stroke-linejoin="round"/>
<polyline points="1005.6,502.3 998.3,503.3" fill="none" stroke="#f2000f" stroke-width="1.15" stroke-linecap="round" stroke-linejoin="round"/>
<polyline points="1007.1,503.4 1010.1,508.6 1014.5,513.0 1019.6,515.2 1021.9,517.4 1021.5,519.5 1019.6,519.6" fill="none" stroke="#f2000f" stroke-width="1.15" stroke-linecap="round" stroke-linejoin="round"/>
<polyline points="1009.3,509.3 1001.6,511.7 1009.3,513.0 1005.6,515.1" fill="none" stroke="#f2000f" stroke-width="1.15" stroke-linecap="round" stroke-linejoin="round"/>
<circle cx="1007.3" cy="500.7" r="2.4" fill="#f2000f"/>
<polygon points="1028.8,574.4 1134.4,574.4 1182.5,525.1 1076.9,525.1" fill="#fcc648"/>
<polygon points="1028.8,574.4 1134.4,574.4 1134.4,586.1 1028.8,586.1" fill="#fdbb2f"/>
<polygon points="1134.4,574.4 1182.5,525.1 1182.5,535.7 1134.4,586.1" fill="#c99b2c"/>
<polygon points="1048.7,524.6 1156.7,524.6 1156.7,553.3 1048.7,553.3" fill="#fcbd33"/>
<polygon points="1156.7,553.3 1158.8,550.9 1158.8,519.5 1156.7,524.6" fill="#d3a22c"/>
<polygon points="1096.8,512.2 1149.2,459.4 1149.2,498.3 1119.1,498.3 1114.4,517.6 1113.0,522.3 1114.4,526.3 1096.8,546.2" fill="#cf5238" stroke="#6a2414" stroke-width="0.45" stroke-linejoin="round"/>
<polygon points="1048.7,518.1 1052.2,498.1 1089.8,498.1 1072.2,512.2 1072.2,526.3 1048.7,526.3" fill="#fdb584"/>
<polygon points="1048.7,517.6 1072.2,517.6 1072.2,522.3 1048.7,522.3" fill="#fb8c3a"/>
<polygon points="1114.4,517.6 1119.1,498.1 1156.4,498.1 1150.1,516.7 1155.3,525.6 1114.4,526.3 1113.0,522.3" fill="#fdb584"/>
<polygon points="1114.0,517.6 1150.8,517.6 1153.4,522.3 1113.5,522.3" fill="#fb8c3a"/>
<polygon points="1156.4,498.3 1161.1,503.5 1158.3,516.7 1155.3,525.6 1150.1,516.7" fill="#de6f1e"/>
<polygon points="1071.5,512.2 1078.3,512.2 1131.0,459.4 1124.3,459.4" fill="#fb7b5d"/>
<polygon points="1071.5,512.2 1078.3,512.2 1078.3,546.2 1071.5,546.2" fill="#fc6a48"/>
<polygon points="1078.3,512.2 1089.7,512.2 1142.2,459.4 1131.0,459.4" fill="#ecd2d4"/>
<polygon points="1078.3,512.2 1089.7,512.2 1089.7,546.2 1078.3,546.2" fill="#e6c0c4"/>
<polygon points="1089.7,512.2 1096.8,512.2 1149.2,459.4 1142.2,459.4" fill="#fb7b5d"/>
<polygon points="1089.7,512.2 1096.8,512.2 1096.8,546.2 1089.7,546.2" fill="#fc6a48"/>
<path d="M1124.3 459.4 L1071.5 512.2 L1071.5 546.2" fill="none" stroke="#5a2418" stroke-width="0.45"/>
<path d="M1131.0 459.4 L1078.3 512.2 L1078.3 546.2" fill="none" stroke="#5a2418" stroke-width="0.45"/>
<path d="M1142.2 459.4 L1089.7 512.2 L1089.7 546.2" fill="none" stroke="#5a2418" stroke-width="0.45"/>
<path d="M1149.2 459.4 L1096.8 512.2 L1096.8 546.2" fill="none" stroke="#5a2418" stroke-width="0.45"/>
<path d="M1071.5 512.2 H1096.8 M1071.5 546.2 H1096.8 M1124.3 459.4 H1149.2" fill="none" stroke="#5a2418" stroke-width="0.45"/>
<path d="M1072.2 509.1 H1053.6 Q1049.4 509.1 1049.4 513.3 V522.1 Q1049.4 526.3 1053.6 526.3 H1072.2 M1050.9 512.9 H1072.2" fill="none" stroke="#111" stroke-width="1.6" stroke-dasharray="1.5 1.45"/>
<path d="M1115.4 509.1 H1154.1 Q1158.3 509.1 1158.3 513.3 V522.1 Q1158.3 526.3 1154.1 526.3 H1116.9 Q1114.4 519.7 1115.4 509.1 M1115.4 512.9 H1156.8" fill="none" stroke="#111" stroke-width="1.6" stroke-dasharray="1.5 1.45"/>
<text x="1071.2" y="568.6" font-size="14" font-style="italic" fill="#141414">NMOS</text>
<polygon points="1162.0,503.4 1198.1,501.7 1185.5,519.8 1157.2,518.3" fill="#5414d2"/>
<polygon points="1197.3,502.1 1188.5,503.6 1181.9,509.3 1184.8,511.5" fill="#2a0c9a"/>
<text transform="matrix(0.47 0.0 -0.30 1 1158.1 519.1)" font-size="20.5" font-weight="bold" fill="#cdb0f7" stroke="#cdb0f7" stroke-width="0.35">PULL</text>
<polyline points="1201.0,501.4 1207.7,500.6 1211.0,502.7 1209.9,505.3 1204.0,504.8 1201.0,502.7" fill="none" stroke="#f2000f" stroke-width="1.15" stroke-linecap="round" stroke-linejoin="round"/>
<polyline points="1201.4,502.5 1209.1,503.4" fill="none" stroke="#f2000f" stroke-width="1.15" stroke-linecap="round" stroke-linejoin="round"/>
<polyline points="1200.3,503.4 1197.3,508.6 1192.9,513.4 1187.8,515.6 1185.5,517.8 1185.7,519.6 1187.4,519.8" fill="none" stroke="#f2000f" stroke-width="1.15" stroke-linecap="round" stroke-linejoin="round"/>
<polyline points="1197.7,509.7 1205.4,511.9 1197.7,513.2 1201.4,515.2" fill="none" stroke="#f2000f" stroke-width="1.15" stroke-linecap="round" stroke-linejoin="round"/>
<circle cx="1199.9" cy="500.8" r="2.4" fill="#f2000f"/>
<text x="1079.3" y="606.8" font-size="15.5" fill="#111">Loke, CICC, 2019</text>
</svg>
<svg width="1221" height="682" viewBox="0 0 1221 682" style="left:0;top:0"><polygon points="16.5,646.4 958.8,646.4 974.8,662.2 958.8,678.0 16.5,678.0 32.5,662.2" fill="#f4a698"/><polygon points="206.2,646.4 393.2,646.4 409.2,662.2 393.2,678.0 206.2,678.0 222.2,662.2" fill="#b32613"/><polyline points="392.2,646.4 408.2,662.2 392.2,678.0" fill="none" stroke="#c8351f" stroke-width="2.4"/><polyline points="205.2,645.4 221.2,662.2 205.2,679.0" fill="none" stroke="#fff" stroke-width="2.6"/><polyline points="580.0,646.4 596.0,662.2 580.0,678.0" fill="none" stroke="#f08068" stroke-width="2.6"/><polyline points="767.0,646.4 783.0,662.2 767.0,678.0" fill="none" stroke="#f08068" stroke-width="2.6"/></svg>
<div class="t" style="left:5.8px;top:659.44px;font-size:14.6px;color:#7f7f7f">18</div>
<div class="t" style="left:61.3px;top:654.31px;font-size:17.95px;color:#fff">Fins and Gates</div>
<div class="t" style="left:257.5px;top:654.31px;font-size:17.95px;color:#fff">Source/Drain</div>
<div class="t" style="left:457.0px;top:654.31px;font-size:17.95px;color:#fff">Hi-K - MG</div>
<div class="t" style="left:658.8px;top:654.31px;font-size:17.95px;color:#fff">MEOL</div>
<div class="t" style="left:847.5px;top:654.31px;font-size:17.95px;color:#fff">BEOL</div>
<div class="t" style="left:992.3px;top:655.28px;font-size:23.3px;color:#bfbfbf">© Adam Teman, 2022</div>

</div>
</body>
</html>
